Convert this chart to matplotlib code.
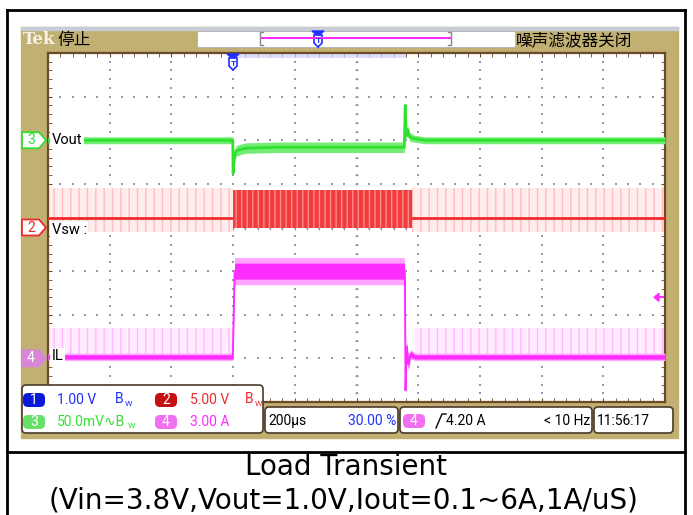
import numpy as np
import matplotlib
matplotlib.use("Agg")
import matplotlib.pyplot as plt
from matplotlib.patches import Rectangle, FancyBboxPatch, Polygon
from matplotlib.ticker import MultipleLocator

plt.rcParams['font.family'] = ['Roboto', 'Noto Sans CJK SC', 'DejaVu Sans']

W, H = 693, 515
# zone de la grille de l'oscillo (pixels)
GX0, GX1 = 48, 665
GY0, GY1 = 53, 402
DIV_H = (GY1 - GY0) / 8

TAN = "#c2af72"
EDGE = "#6b4a2a"
DOT = "#9696b0"
GREEN = "#2fe02f"
RED = "#ee2a2a"
MAG = "#ff2cff"
BLUE = "#1f2fff"

# --- réglages de l'oscillo
T_MIN, T_MAX = -600, 1400          # µs (200 µs/div, déclenchement à 30 %)
VOUT_DIV, VSW_DIV, IL_DIV = 50.0, 5.0, 3.0   # mV, V, A par division
VOUT_POS, VSW_POS, IL_POS = 2.0, 0.0, -3.0   # position des voies (div)

# --- Vout (mV, couplage AC)
vout_t = [-600, -1, 0, 3, 10, 40, 150, 400, 555, 558, 561, 566, 572, 585, 620, 1400]
vout_mv = [0, 0, -38, -22, -12, -9, -8, -8, -8, 40, 5, 12, 4, 2, 0, 0]
vout_rip = [4, 4, 3, 5, 6, 6, 6, 6, 6, 2, 5, 5, 5, 4, 4, 4]

# --- Vsw (V) : enveloppe de commutation et niveau moyen
vsw_idle_t = [[-600, 0], [580, 1400]]
vsw_idle_lo, vsw_idle_hi, vsw_dc = -0.55, 4.5, 1.1
vsw_load_t = [0, 580]
vsw_load_lo, vsw_load_hi = -0.05, 4.3

# --- IL (A)
il_t = [-600, -1, 5, 555, 557, 559, 563, 568, 575, 590, 1400]
il_a = [0.1, 0.1, 6.0, 6.0, 5.5, -2.2, 0.8, -0.4, 0.3, 0.1, 0.1]
il_rip = [0.15, 0.15, 0.55, 0.55, 0.3, 0.1, 0.3, 0.3, 0.2, 0.15, 0.15]
il_spike_hi = 2.1

# --- voie 1 hors écran (lueur bleue en haut)
ch1_t = [0, 560]


def vout_div(v):
    return np.asarray(v) / VOUT_DIV + VOUT_POS


def vsw_div(v):
    return np.asarray(v) / VSW_DIV + VSW_POS


def il_div(v):
    return np.asarray(v) / IL_DIV + IL_POS


def ypix(div):
    return GY0 + (4 - div) * DIV_H


fig = plt.figure(figsize=(W / 100, H / 100), dpi=100)

# fond : tableau + cadre de l'oscillo
bg = fig.add_axes([0, 0, 1, 1])
bg.set_xlim(0, W); bg.set_ylim(H, 0); bg.axis("off")
bg.add_patch(Rectangle((21, 27), 657, 411, color=TAN, zorder=1))
bg.add_patch(Rectangle((21, 27), 657, 2.5, color="#c8ccd4", zorder=2))
for x0, x1, y0, y1 in [(7, 685, 10, 10), (7, 685, 452, 452), (7, 7, 10, 515), (685, 685, 10, 515)]:
    bg.plot([x0, x1], [y0, y1], color="black", lw=2, solid_capstyle="projecting")
bg.text(346, 467, "Load Transient", ha="center", va="center", fontsize=20,
        family="DejaVu Sans")
bg.text(344, 500, "(Vin=3.8V,Vout=1.0V,Iout=0.1~6A,1A/uS)", ha="center",
        va="center", fontsize=20, family="DejaVu Sans")

# écran
ax = fig.add_axes([GX0 / W, 1 - GY1 / H, (GX1 - GX0) / W, (GY1 - GY0) / H], zorder=1)
ax.set_xlim(T_MIN, T_MAX); ax.set_ylim(-4, 4)
ax.set_facecolor("white")
for s in ax.spines.values():
    s.set_color(EDGE); s.set_linewidth(1.6)
ax.xaxis.set_major_locator(MultipleLocator(200)); ax.xaxis.set_minor_locator(MultipleLocator(40))
ax.yaxis.set_major_locator(MultipleLocator(1)); ax.yaxis.set_minor_locator(MultipleLocator(0.2))
ax.tick_params(which="both", direction="in", length=3, color=EDGE, top=True, right=True,
               labelbottom=False, labelleft=False)

# grille pointillée + réticule central
xs = np.arange(T_MIN + 40, T_MAX, 40)
ys = np.arange(-3.8, 3.9, 0.2)
for k in range(-3, 4):
    ax.plot(xs, np.full_like(xs, k, dtype=float), ls="none", marker="s", ms=1.5, mew=0,
            color=DOT, zorder=1)
for t in range(T_MIN + 200, T_MAX, 200):
    ax.plot(np.full_like(ys, t), ys, ls="none", marker="s", ms=1.5, mew=0, color=DOT, zorder=1)
ax.vlines(xs, -0.06, 0.06, color=DOT, lw=0.9, zorder=1)
ax.hlines(ys, 400 - 6, 400 + 6, color=DOT, lw=0.9, zorder=1)

# voie 1 : lueur en haut
ax.fill_between(ch1_t, 3.88, 4.0, color="#d2d2fb", alpha=0.7, lw=0, zorder=2)

# Vsw
for seg in vsw_idle_t:
    ax.fill_between(seg, vsw_div(vsw_idle_lo), vsw_div(vsw_idle_hi), facecolor="#ffeded",
                    edgecolor="#ffbcbc", hatch="||", lw=0, zorder=2)
    ax.plot(seg, vsw_div([vsw_dc, vsw_dc]), color=RED, lw=2, zorder=3)
ax.fill_between(vsw_load_t, vsw_div(vsw_load_lo), vsw_div(vsw_load_hi), facecolor="#f03c3c",
                edgecolor="#ff8c8c", hatch="|||", lw=0, zorder=3)

# Vout
vo = vout_div(vout_mv)
vr = np.asarray(vout_rip) / VOUT_DIV
ax.fill_between(vout_t, vo - vr, vo + vr, color="#74ec74", lw=0, zorder=3)
ax.plot(vout_t, vo, color=GREEN, lw=2, zorder=4)

# IL
for seg in (il_t[:2], il_t[-2:]):
    ax.fill_between(seg, il_div(0.1), il_div(il_spike_hi), facecolor="#ffeaff",
                    edgecolor="#ffb8ff", hatch="||", lw=0, zorder=2)
ia = il_div(il_a)
ir = np.asarray(il_rip) / IL_DIV
ax.fill_between(il_t, ia - 1.7 * ir, ia + 1.7 * ir, color="#ffa4ff", lw=0, zorder=3)
ax.fill_between(il_t, ia - ir, ia + ir, color=MAG, lw=0, zorder=3)
ax.plot(il_t, ia, color=MAG, lw=1.4, zorder=4)

# étiquettes des traces
lbl = dict(fontsize=10.5, color="black", va="center", zorder=6,
           bbox=dict(facecolor="white", edgecolor="none", pad=1.2))
ax.text(T_MIN + 12, VOUT_POS, "Vout", **lbl)
ax.text(T_MIN + 12, VSW_POS - 0.05, "Vsw :", **lbl)
ax.text(T_MIN + 12, IL_POS + 0.05, "IL", **lbl)

# surcouche : bandeaux et marqueurs
ov = fig.add_axes([0, 0, 1, 1], zorder=2)
ov.set_xlim(0, W); ov.set_ylim(H, 0); ov.axis("off"); ov.patch.set_alpha(0)

ov.text(23, 40, "Tek", family="DejaVu Serif", weight="bold", fontsize=12,
        color="#f6f2e6", va="center")
ov.text(57, 40, "停止", fontsize=12, va="center", color="black")
ov.add_patch(Rectangle((197, 31), 318, 16, facecolor="white", edgecolor="#b8b8b8", lw=0.8))
ov.plot([262, 450], [38, 38], color=MAG, lw=1.5)
ov.plot([263, 260, 260, 263], [32, 32, 45, 45], color="#888888", lw=1)
ov.plot([448, 451, 451, 448], [32, 32, 45, 45], color="#888888", lw=1)
ov.text(516, 40, "噪声滤波器关闭", fontsize=12, va="center", color="black")


def trig_mark(x, y):
    ov.add_patch(Polygon([(x - 6, y), (x + 6, y), (x, y + 5)], color=BLUE))
    ov.add_patch(Polygon([(x - 4, y + 4), (x + 4, y + 4), (x + 4, y + 12), (x, y + 16),
                          (x - 4, y + 12)], facecolor="white", edgecolor=BLUE, lw=1.2))
    ov.text(x, y + 9.5, "T", color=BLUE, fontsize=6, ha="center", va="center", weight="bold")


trig_mark(233, 54)
trig_mark(318, 31)

# marqueurs de voies à gauche
for pos, num, col, filled in [(VOUT_POS, "3", GREEN, False), (VSW_POS, "2", RED, False),
                              (IL_POS, "4", "#d887d8", True)]:
    y = ypix(pos)
    ov.add_patch(Polygon([(22, y - 8), (39, y - 8), (46, y), (39, y + 8), (22, y + 8)],
                         facecolor=col if filled else "white", edgecolor=col, lw=1.3))
    ov.text(31, y, num, color="white" if filled else col, fontsize=10, ha="center", va="center")

# niveau de déclenchement
yt = ypix(il_div(4.2))
ov.add_patch(Polygon([(654, yt), (659, yt - 4), (659, yt + 4)], color=MAG))
ov.plot([657, 663], [yt, yt], color=MAG, lw=1.5)


# bandeau du bas
def box(x0, y0, x1, y1):
    ov.add_patch(FancyBboxPatch((x0, y0), x1 - x0, y1 - y0, boxstyle="round,pad=0,rounding_size=4",
                                facecolor="white", edgecolor="#4a3a2a", lw=1.2))


def badge(x, y, num, col):
    ov.add_patch(FancyBboxPatch((x, y - 7), 22, 14, boxstyle="round,pad=0,rounding_size=5",
                                facecolor=col, edgecolor="none"))
    ov.text(x + 11, y, num, color="white", fontsize=10, ha="center", va="center")


box(22, 385, 263, 433)
box(265, 407, 398, 433)
box(400, 407, 592, 433)
box(594, 407, 673, 433)

st = dict(fontsize=10, va="center")
badge(23, 400, "1", "#0a1ad8")
ov.text(57, 400, "1.00 V", color=BLUE, **st)
ov.text(115, 399, "B", color=BLUE, **st)
ov.text(124.5, 404, "W", color=BLUE, fontsize=6, va="center")
badge(155, 400, "2", "#c41010")
ov.text(190, 400, "5.00 V", color=RED, **st)
ov.text(245, 399, "B", color=RED, **st)
ov.text(254.5, 404, "W", color=RED, fontsize=6, va="center")
badge(23, 422, "3", "#66e066")
ov.text(57, 422, "50.0mV\u223fB", color=GREEN, **st)
ov.text(127.5, 426, "W", color=GREEN, fontsize=6, va="center")
badge(155, 422, "4", "#f070f0")
ov.text(190, 422, "3.00 A", color=MAG, **st)

ov.text(268, 421, "200\u00b5s", color="black", **st)
ov.text(396, 421, "30.00 %", color=BLUE, ha="right", **st)
badge(403, 421, "4", "#f070f0")
ov.plot([436, 442, 446], [428, 414, 414], color="black", lw=1)
ov.text(446, 421, "4.20 A", color="black", **st)
ov.text(590, 421, "< 10 Hz", color="black", ha="right", **st)
ov.text(597, 421, "11:56:17", color="black", **st)

fig.savefig("out.png", dpi=100)
